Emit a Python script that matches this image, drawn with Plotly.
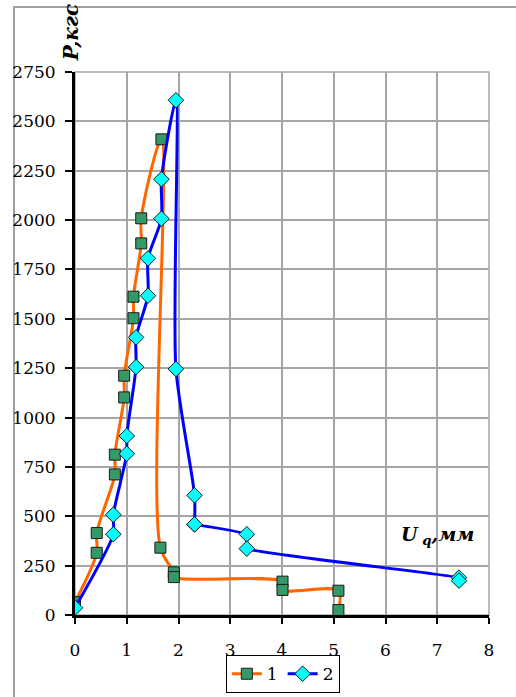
import plotly.graph_objects as go

# Series 1 (squares)
x1 = [0.0, 0.42, 0.42, 0.77, 0.77, 0.95, 0.95, 1.13, 1.13, 1.28, 1.28, 1.67,
      1.65, 1.91, 1.91, 4.01, 4.01, 5.09, 5.09]
y1 = [65, 315, 415, 712, 812, 1102, 1212, 1503, 1612, 1882, 2009, 2409,
      341, 216, 192, 169, 127, 123, 25]

# Series 2 (diamonds)
x2 = [0.0, 0.74, 0.74, 1.0, 1.0, 1.18, 1.18, 1.41, 1.41, 1.67, 1.67, 1.95,
      1.95, 2.31, 2.31, 3.32, 3.32, 7.42, 7.42]
y2 = [37, 409, 508, 817, 907, 1256, 1406, 1617, 1806, 2007, 2207, 2607,
      1246, 606, 459, 409, 336, 189, 174]

names = ["1", "2"]
x_ticks = [0, 1, 2, 3, 4, 5, 6, 7, 8]
y_ticks = [0, 250, 500, 750, 1000, 1250, 1500, 1750, 2000, 2250, 2500, 2750]

serif = "DejaVu Serif"
split = 14  # blue curve: smoothed part up to this index, near-straight tail after

sq_marker = dict(symbol="square", size=11, color="#339966", line=dict(color="#1a1a1a", width=1))
di_marker = dict(symbol="diamond", size=12, color="#00ffff", line=dict(color="#1a1a1a", width=1))

fig = go.Figure()
fig.add_trace(go.Scatter(
    x=x1, y=y1, name=names[0], mode="lines+markers",
    line=dict(color="#ff6600", width=3, shape="spline", smoothing=0.9),
    marker=sq_marker,
))
fig.add_trace(go.Scatter(
    x=x2[split:], y=y2[split:], name=names[1], mode="lines+markers", showlegend=False,
    legendgroup="2",
    line=dict(color="#0000ff", width=3, shape="spline", smoothing=0.25),
    marker=di_marker,
))
fig.add_trace(go.Scatter(
    x=x2[:split + 1], y=y2[:split + 1], name=names[1], mode="lines+markers",
    legendgroup="2",
    line=dict(color="#0000ff", width=3, shape="spline", smoothing=0.7),
    marker=di_marker,
))

grid = "#a6a6a6"
fig.update_layout(
    width=516, height=697,
    margin=dict(l=75, r=27, t=72, b=82, autoexpand=False),
    paper_bgcolor="white", plot_bgcolor="white",
    font=dict(family=serif, size=17, color="black"),
    showlegend=True,
    legend=dict(orientation="h", x=0.502, y=-0.074, xanchor="center", yanchor="top",
                bordercolor="black", borderwidth=1, bgcolor="white",
                font=dict(family=serif, size=17), itemwidth=30,
                tracegroupgap=0, traceorder="normal"),
    xaxis=dict(range=[0, 8], tickvals=x_ticks, showgrid=True, gridcolor=grid, gridwidth=1.5,
               showline=True, linecolor="black", linewidth=3, zeroline=False,
               ticks="outside", ticklen=6, tickwidth=2, tickcolor="black",
               ticklabelstandoff=12, tickfont=dict(family=serif, size=17)),
    yaxis=dict(range=[0, 2750], tickvals=y_ticks, tickformat="d", showgrid=True,
               gridcolor=grid, gridwidth=1.5,
               showline=True, linecolor="black", linewidth=3, zeroline=False,
               ticks="outside", ticklen=7, tickwidth=2, tickcolor="black",
               ticklabelstandoff=6, tickfont=dict(family=serif, size=17)),
    shapes=[
        dict(type="rect", xref="paper", yref="paper", x0=0, x1=1, y0=0, y1=1,
             line=dict(color=grid, width=1.5), layer="below"),
        dict(type="rect", xref="paper", yref="paper", x0=-0.1473, x1=1.3, y0=-0.3, y1=1.1197,
             line=dict(color="#a0a0a0", width=2), layer="below"),
    ],
    annotations=[
        dict(text="<b><i>P,кгс</i></b>", xref="paper", yref="paper",
             x=-0.009, y=1.072, textangle=-90, showarrow=False,
             xanchor="center", yanchor="middle",
             font=dict(family=serif, size=20, color="black")),
        dict(text="<b><i>U<sub> q</sub>,мм</i></b>", xref="paper", yref="paper",
             x=0.876, y=0.147, showarrow=False, xanchor="center", yanchor="middle",
             font=dict(family=serif, size=19, color="black")),
    ],
)

fig.write_html("out.html", post_script="document.body.style.margin='0px';",
               config={"displayModeBar": False})
